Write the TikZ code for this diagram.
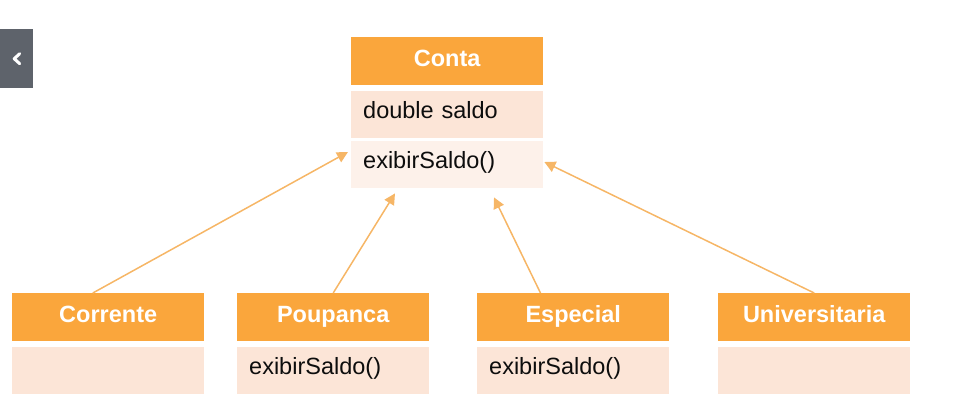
\documentclass[tikz,border=0pt]{standalone}
\usepackage{fontspec}
\setmainfont{Liberation Sans}
\usetikzlibrary{arrows.meta,calc}

\definecolor{hdrorange}{RGB}{250,166,60}
\definecolor{attrfill}{RGB}{252,229,215}
\definecolor{methfill}{RGB}{253,241,234}
\definecolor{linkorange}{RGB}{246,182,102}
\definecolor{tabgray}{RGB}{94,99,107}

\tikzset{
  x=1pt, y=-1pt,
  hdr/.style={fill=hdrorange, text=white, font=\bfseries\fontsize{23.5}{26}\selectfont,
    minimum width=192pt, minimum height=48pt, inner sep=0pt, anchor=north west,
    text height=17pt, text depth=6pt},
  body/.style={text=black!95, font=\fontsize{23.5}{26}\selectfont,
    text width=168pt, inner xsep=12pt, inner ysep=0pt, align=left,
    minimum height=47pt, anchor=north west, text height=16pt, text depth=8pt},
  attrbox/.style={body, fill=attrfill},
  methbox/.style={body, fill=methfill},
  inherit/.style={draw=linkorange, line width=1.5pt,
    -{Triangle[length=11pt,width=11pt]}}
}

\begin{document}
\begin{tikzpicture}
  \useasboundingbox (0,0) rectangle (956,416);

  % side tab with chevron
  \node[fill=tabgray, minimum width=33pt, minimum height=59pt, inner sep=0pt,
        anchor=north west] (tab) at (0,29) {};
  \draw[white, line width=3pt, line cap=round, line join=round]
    ($(tab.center)+(3,-5)$) -- ($(tab.center)+(-2.5,0)$) -- ($(tab.center)+(3,5)$);

  % superclass
  \node[hdr] (conta) at (351,37) {Conta};
  \node[attrbox] (contaattr) at (351,91) {double saldo};
  \node[methbox] (contameth) at (351,141) {exibirSaldo()};

  % subclasses
  \node[hdr] (cor) at (12,293) {Corrente};
  \node[attrbox] (corbody) at (12,347) {};

  \node[hdr] (pou) at (237,293) {Poupanca};
  \node[attrbox] (poubody) at (237,347) {exibirSaldo()};

  \node[hdr] (esp) at (477,293) {Especial};
  \node[attrbox] (espbody) at (477,347) {exibirSaldo()};

  \node[hdr] (uni) at (718,293) {Universitaria};
  \node[attrbox] (unibody) at (718,347) {};

  % generalisation links
  \draw[inherit] ($(cor.north west)!0.42!(cor.north east)$)
    -- ($(contameth.north west)+(-3,11)$);
  \draw[inherit] (pou.north)
    -- ($(contameth.south west)+(44,5)$);
  \draw[inherit] ($(esp.north west)!0.33!(esp.north east)$)
    -- ($(contameth.south west)+(143,9)$);
  \draw[inherit] (uni.north)
    -- ($(contameth.north east)+(1,21)$);
\end{tikzpicture}
\end{document}
